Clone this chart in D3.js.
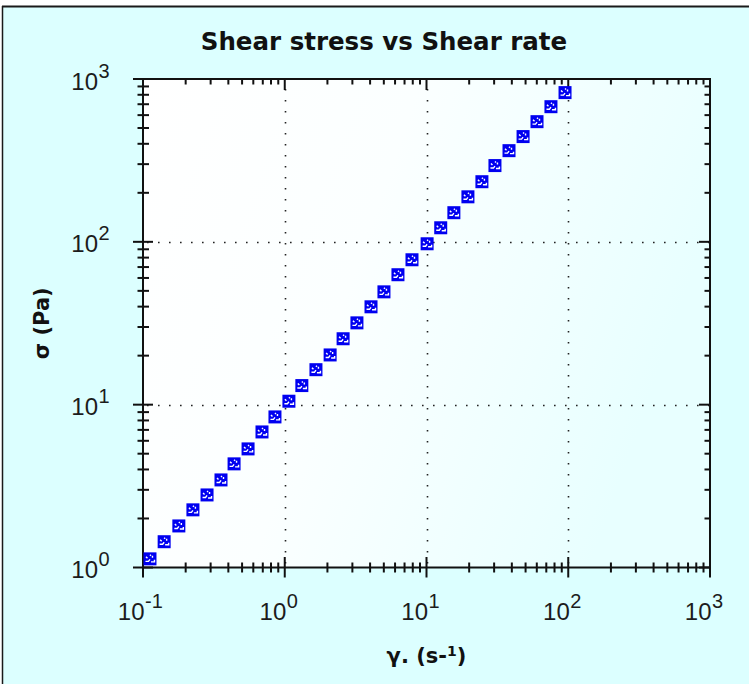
<!DOCTYPE html>
<html>
<head>
<meta charset="utf-8">
<script src="https://cdn.jsdelivr.net/npm/d3@7"></script>
<style>
  html, body { margin: 0; padding: 0; background: #ffffff; }
  svg { display: block; }
</style>
</head>
<body>
<svg id="chart" width="749" height="684"></svg>
<script>
// Shear rate (1/s) and shear stress (Pa) readings
const shearRate = [0.112, 0.141, 0.179, 0.225, 0.283, 0.355, 0.439, 0.551, 0.691, 0.853,
                   1.07, 1.32, 1.66, 2.09, 2.58, 3.23, 4.06, 5.01, 6.29, 7.90,
                   10.1, 12.6, 15.6, 19.6, 24.6, 30.4, 38.2, 48.0, 60.2, 75.5, 94.9];
const shearStress = [1.13, 1.44, 1.80, 2.26, 2.79, 3.45, 4.33, 5.35, 6.80, 8.41,
                     10.5, 13.1, 16.4, 20.2, 25.4, 31.8, 39.9, 49.3, 62.8, 77.6,
                     97.3, 122, 151, 189, 234, 294, 363, 443, 547, 676, 825];
const xTickExps = [-1, 0, 1, 2, 3];
const yTickExps = [0, 1, 2, 3];
const gridX = [1, 10, 100];
const gridY = [10, 100];

const titleText = "Shear stress vs Shear rate";
const yLabelText = "σ (Pa)";

const svg = d3.select("#chart");
const W = 749, H = 684;
const plot = { left: 143, right: 710, top: 79, bottom: 567.5 };

const x = d3.scaleLog().domain([0.1, 1000]).range([plot.left, plot.right]);
const y = d3.scaleLog().domain([1, 1000]).range([plot.bottom, plot.top]);

// panel
svg.append("rect").attr("x", 2).attr("y", 6).attr("width", W).attr("height", H)
  .attr("fill", "#dcffff");
svg.append("line").attr("x1", 2).attr("x2", W).attr("y1", 6.5).attr("y2", 6.5)
  .attr("stroke", "#1a1a1a").attr("stroke-width", 2);
svg.append("line").attr("x1", 2.5).attr("x2", 2.5).attr("y1", 6).attr("y2", H)
  .attr("stroke", "#1a1a1a").attr("stroke-width", 1.5);

// plot background
const defs = svg.append("defs");
const grad = defs.append("linearGradient").attr("id", "plotBg")
  .attr("x1", "0").attr("y1", "0").attr("x2", "1").attr("y2", "0.3");
grad.append("stop").attr("offset", "0").attr("stop-color", "#ffffff");
grad.append("stop").attr("offset", "0.45").attr("stop-color", "#fbffff");
grad.append("stop").attr("offset", "1").attr("stop-color", "#e8ffff");
svg.append("rect").attr("x", plot.left).attr("y", plot.top)
  .attr("width", plot.right - plot.left).attr("height", plot.bottom - plot.top)
  .attr("fill", "url(#plotBg)");

// dotted grid at the decades
const grid = svg.append("g").attr("stroke", "#222").attr("stroke-width", 1.6)
  .attr("stroke-dasharray", "1.6 9.4");
grid.selectAll("line.gx").data(gridX).join("line").attr("class", "gx")
  .attr("x1", d => Math.round(x(d)) + 0.5).attr("x2", d => Math.round(x(d)) + 0.5)
  .attr("y1", plot.bottom - 4).attr("y2", plot.top);
grid.selectAll("line.gy").data(gridY).join("line").attr("class", "gy")
  .attr("y1", d => Math.round(y(d)) + 0.5).attr("y2", d => Math.round(y(d)) + 0.5)
  .attr("x1", plot.left + 4).attr("x2", plot.right);

// tick positions: majors at decades, minors at 2..9
function ticksFor(lo, hi) {
  const out = [];
  for (let e = lo; e <= hi; e++) {
    out.push({ v: Math.pow(10, e), major: true });
    if (e < hi) for (let m = 2; m <= 9; m++) out.push({ v: m * Math.pow(10, e), major: false });
  }
  return out;
}
const xt = ticksFor(-1, 3);
const yt = ticksFor(0, 3);
const axisColor = "#111";
const ax = svg.append("g").attr("stroke", axisColor).attr("stroke-width", 2);

// bottom axis: ticks cross the line
ax.selectAll("line.bt").data(xt).join("line").attr("class", "bt")
  .attr("x1", d => x(d.v)).attr("x2", d => x(d.v))
  .attr("y1", d => plot.bottom - (d.major ? 10.5 : 5))
  .attr("y2", d => plot.bottom + (d.major ? 10 : 5));
// top axis: inward ticks
ax.selectAll("line.tt").data(xt).join("line").attr("class", "tt")
  .attr("x1", d => x(d.v)).attr("x2", d => x(d.v))
  .attr("y1", plot.top).attr("y2", d => plot.top + (d.major ? 11 : 5.5));
// left axis: ticks cross the line
ax.selectAll("line.lt").data(yt).join("line").attr("class", "lt")
  .attr("y1", d => y(d.v)).attr("y2", d => y(d.v))
  .attr("x1", d => plot.left - (d.major ? 10 : 5.5))
  .attr("x2", d => plot.left + (d.major ? 10 : 6));
// right axis: inward ticks
ax.selectAll("line.rt").data(yt).join("line").attr("class", "rt")
  .attr("y1", d => y(d.v)).attr("y2", d => y(d.v))
  .attr("x1", plot.right).attr("x2", d => plot.right - (d.major ? 11 : 5.5));

// frame
svg.append("rect").attr("x", plot.left).attr("y", plot.top)
  .attr("width", plot.right - plot.left).attr("height", plot.bottom - plot.top)
  .attr("fill", "none").attr("stroke", axisColor).attr("stroke-width", 2);

// tick labels 10^n
const labFont = "'Liberation Sans', Arial, sans-serif";
function powLabel(g, px, py, exp, anchorRight) {
  const base = g.append("text").attr("x", px).attr("y", py)
    .attr("text-anchor", "end").attr("font-family", labFont)
    .attr("font-size", 24).attr("fill", "#1c1c1c").text("10");
  g.append("text").attr("x", px + 0.5).attr("y", py - 12)
    .attr("text-anchor", "start").attr("font-family", labFont)
    .attr("font-size", 20).attr("fill", "#1c1c1c").text(String(exp).replace("-", "-"));
}
const labels = svg.append("g");
xTickExps.forEach(e => powLabel(labels, x(Math.pow(10, e)) + 1.5, 619.5, e));
yTickExps.forEach(e => powLabel(labels, 98, y(Math.pow(10, e)) + 10.5, e));

// data markers
const markers = svg.append("g");
const pts = shearRate.map((r, i) => ({ r, s: shearStress[i] }));
const mk = markers.selectAll("g").data(pts).join("g")
  .attr("transform", d => `translate(${x(d.r)},${y(d.s)})`);
mk.append("rect").attr("x", -6.5).attr("y", -6.5).attr("width", 13).attr("height", 13)
  .attr("fill", "#0000f0");
mk.append("path")
  .attr("d", "M-4,-2 l1.5,1.5 M0,-4 l1,1 M2.5,-3 v2 M-4.5,2.5 h3 l1.5,-2 M1,3 h3.5 v-2")
  .attr("stroke", "#ffffff").attr("stroke-width", 1.4).attr("fill", "none");

// title and axis titles
const boldFont = "'DejaVu Sans', Verdana, sans-serif";
svg.append("text").attr("x", 384).attr("y", 50)
  .attr("text-anchor", "middle").attr("font-family", boldFont)
  .attr("font-weight", "bold").attr("font-size", 24.5).attr("fill", "#111")
  .text(titleText);

svg.append("text").attr("transform", `translate(49,${(plot.top + plot.bottom) / 2}) rotate(-90)`)
  .attr("text-anchor", "middle").attr("font-family", boldFont)
  .attr("font-weight", "bold").attr("font-size", 21).attr("fill", "#111")
  .text(yLabelText);

const xl = svg.append("text").attr("x", (plot.left + plot.right) / 2).attr("y", 663)
  .attr("text-anchor", "middle").attr("font-family", boldFont)
  .attr("font-weight", "bold").attr("font-size", 21).attr("fill", "#111");
xl.append("tspan").text("γ. (s-");
xl.append("tspan").attr("font-size", 14).attr("dy", -7).text("1");
xl.append("tspan").attr("dy", 7).text(")");
</script>
</body>
</html>
